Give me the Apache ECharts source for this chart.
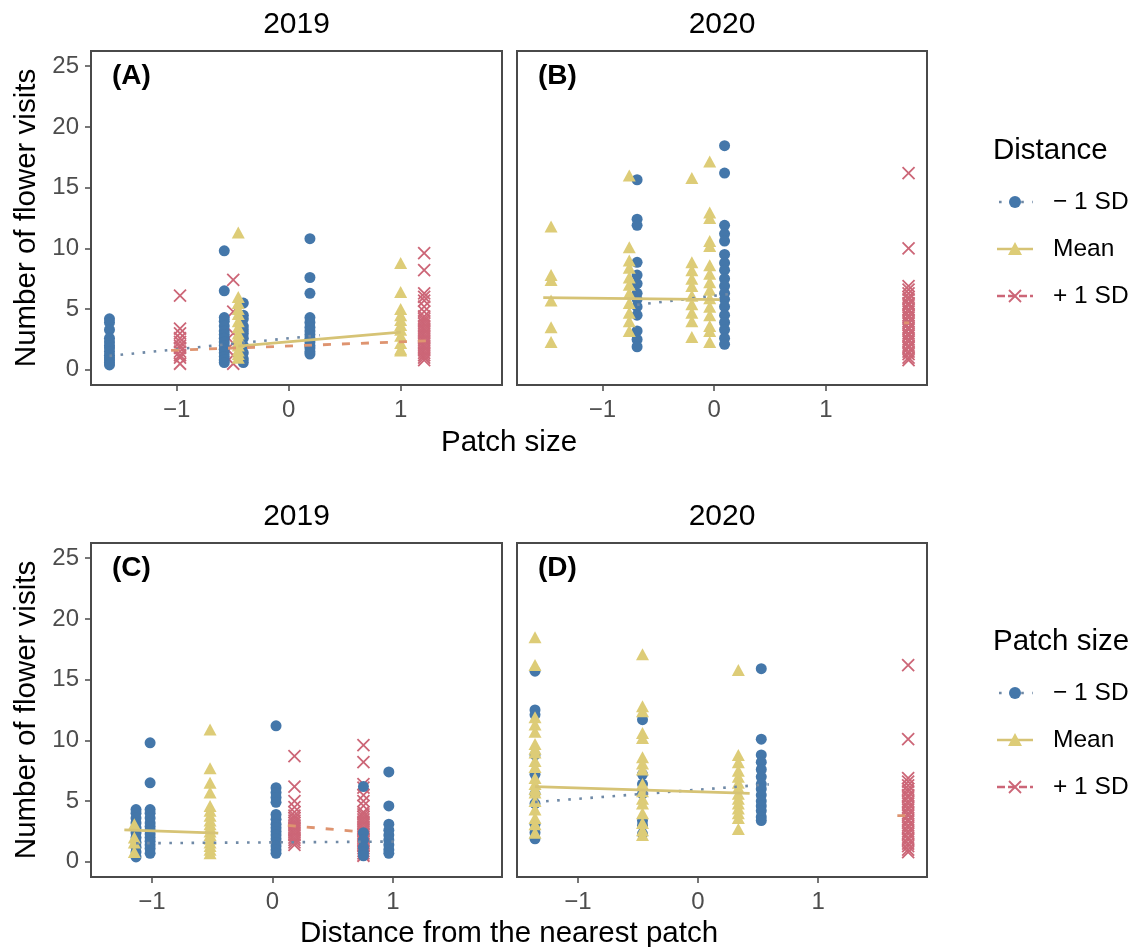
<!DOCTYPE html>
<html><head><meta charset="utf-8">
<script src="https://cdn.jsdelivr.net/npm/echarts@6/dist/echarts.min.js"></script>
<style>html,body{margin:0;padding:0;background:#fff}#c{width:1146px;height:947px}</style>
</head><body><div id="c"></div>
<script>
// ---------- DATA ----------
const stripLabels = ['2019', '2020', '2019', '2020'];
const panelLabels = ['(A)', '(B)', '(C)', '(D)'];
const xTicks = [-1, 0, 1];
const yTicks = [0, 5, 10, 15, 20, 25];
const legendLabels = ['\u2212 1 SD', 'Mean', '+ 1 SD'];

// Panel A (2019, patch size)
const aBlueX = [-1.60, -0.575, -0.405, 0.19];
const aBlueY = [
  [4.2, 3.9, 3.3, 2.6, 2.3, 2.0, 1.8, 1.5, 1.2, 1.0, 0.8, 0.6, 0.4],
  [9.8, 6.5, 4.3, 4.0, 3.6, 3.2, 2.9, 2.6, 2.3, 2.0, 1.7, 1.4, 1.1, 0.8, 0.6],
  [5.5, 4.5, 4.2, 3.6, 3.3, 3.0, 2.6, 2.0, 1.4, 0.9, 0.6],
  [10.8, 7.6, 6.3, 4.3, 3.9, 3.5, 3.2, 2.9, 2.6, 2.3, 2.0, 1.8, 1.5, 1.3]
];
const aMeanX = [-0.45, 1.0];
const aMeanY = [
  [11.3, 6.0, 5.5, 5.0, 4.6, 4.0, 3.5, 3.0, 2.7, 2.3, 2.0, 1.6, 1.3, 1.0],
  [8.8, 6.4, 5.0, 4.5, 4.1, 3.7, 3.3, 2.8, 2.2, 1.7, 1.6]
];
const aPlusX = [-0.97, -0.495, 1.21];
const aPlusY = [
  [6.1, 3.4, 3.0, 2.6, 2.3, 2.0, 1.8, 1.5, 1.2, 1.0, 0.5],
  [7.4, 4.8, 3.0, 2.2, 1.2, 0.5],
  [9.6, 8.2, 6.3, 6.0, 5.7, 5.2, 4.8, 4.4, 4.2, 4.0, 3.8, 3.6, 3.4, 3.2, 3.0, 2.8, 2.6, 2.4, 2.2, 2.0, 1.8, 1.6, 1.4, 1.2, 1.0, 0.8]
];
const aFitMinus = [[-1.60, 1.15], [0.28, 2.85]];
const aFitMean = [[-0.45, 1.95], [1.0, 3.1]];
const aFitPlus = [[-1.05, 1.6], [1.28, 2.4]];

// Panel B (2020, patch size)
const bBlueX = [-0.69, 0.093];
const bBlueY = [
  [15.65, 12.4, 11.9, 8.85, 7.8, 7.1, 6.3, 5.8, 5.2, 4.5, 3.2, 2.5, 1.9],
  [18.45, 16.2, 11.9, 11.2, 10.6, 9.5, 8.8, 8.2, 7.5, 6.9, 6.3, 5.8, 5.2, 4.5, 3.9, 3.3, 2.6, 2.1]
];
const bMeanX = [-1.46, -0.76, -0.2, -0.04];
const bMeanY = [
  [11.8, 7.8, 7.4, 5.7, 3.5, 2.3],
  [16.0, 10.1, 9.0, 8.4, 7.6, 7.0, 6.3, 5.5, 4.7, 4.0, 3.2],
  [15.8, 8.85, 8.2, 7.5, 6.9, 6.1, 5.4, 4.7, 4.0, 2.7],
  [17.15, 12.96, 12.5, 10.6, 10.2, 8.6, 7.9, 7.2, 6.6, 5.9, 5.2, 4.5, 3.6, 3.2, 2.3]
];
const bPlusX = [1.74];
const bPlusY = [
  [16.2, 10.0, 6.9, 6.6, 6.3, 6.0, 5.8, 5.5, 5.3, 5.0, 4.8, 4.5, 4.3, 4.0, 3.8, 3.5, 3.3, 3.0, 2.8, 2.5, 2.3, 2.0, 1.8, 1.5, 1.3, 1.0, 0.8]
];
const bFitMinus = [[-0.69, 5.35], [0.19, 6.3]];
const bFitMean = [[-1.53, 5.95], [0.05, 5.78]];
const bFitPlus = [[1.70, 3.86], [1.745, 3.86]];

// Panel C (2019, distance)
const cBlueX = [-1.133, -1.016, 0.03, 0.756, 0.967];
const cBlueY = [
  [4.3, 4.0, 3.6, 3.2, 2.8, 2.4, 2.0, 1.6, 1.2, 0.8, 0.4],
  [9.8, 6.5, 4.3, 4.0, 3.6, 3.2, 2.9, 2.6, 2.3, 2.0, 1.7, 1.4, 1.1, 0.7],
  [11.2, 6.1, 5.7, 5.3, 4.9, 3.9, 3.5, 3.1, 2.8, 2.5, 2.2, 1.9, 1.6, 1.3, 1.0, 0.7],
  [6.2, 2.4, 1.8, 1.2, 0.8, 0.5],
  [7.4, 4.6, 3.1, 2.6, 2.2, 1.8, 1.4, 1.0, 0.7]
];
const cMeanX = [-1.147, -0.518];
const cMeanY = [
  [3.1, 2.0, 1.6, 0.8],
  [10.9, 7.7, 6.5, 5.7, 4.6, 4.2, 3.8, 3.4, 3.1, 2.8, 2.5, 2.2, 1.9, 1.6, 1.3, 1.0, 0.7]
];
const cPlusX = [0.183, 0.756];
const cPlusY = [
  [8.7, 6.2, 5.0, 4.5, 4.1, 3.8, 3.6, 3.4, 3.2, 3.0, 2.8, 2.6, 2.4, 2.2, 2.0, 1.8, 1.6, 1.4],
  [9.6, 8.2, 6.4, 6.1, 5.5, 5.0, 4.6, 4.1, 3.9, 3.7, 3.5, 3.3, 3.1, 2.9, 2.7, 2.5, 2.3, 2.1, 1.9, 1.7, 1.5, 1.3, 1.1, 0.9, 0.7, 0.5]
];
const cFitMinus = [[-1.133, 1.53], [1.06, 1.67]];
const cFitMean = [[-1.23, 2.63], [-0.45, 2.36]];
const cFitPlus = [[0.128, 3.0], [0.743, 2.46]];

// Panel D (2020, distance)
const dBlueX = [-1.357, -0.462, 0.527];
const dBlueY = [
  [15.7, 12.5, 12.1, 8.8, 7.2, 5.6, 4.8, 3.1, 2.4, 1.9],
  [11.7, 7.2, 6.4, 5.6, 3.4, 3.0, 2.3],
  [15.9, 10.1, 8.8, 8.2, 7.6, 7.0, 6.4, 6.0, 5.5, 5.0, 4.6, 4.2, 3.7, 3.4]
];
const dMeanX = [-1.357, -0.462, 0.336];
const dMeanY = [
  [18.5, 16.2, 11.9, 11.3, 10.7, 9.7, 9.3, 9.0, 8.3, 7.8, 6.9, 6.4, 6.0, 5.7, 5.0, 4.3, 3.6, 3.1, 2.4],
  [17.1, 12.8, 12.4, 10.6, 10.2, 8.6, 8.1, 7.6, 6.4, 5.8, 5.2, 4.8, 4.0, 3.2, 2.6, 2.2],
  [15.8, 8.8, 8.2, 7.5, 7.0, 6.5, 6.1, 5.6, 5.2, 4.8, 4.4, 4.0, 3.6, 2.7]
];
const dPlusX = [1.75];
const dPlusY = [
  [16.2, 10.1, 6.9, 6.6, 6.3, 6.0, 5.8, 5.5, 5.3, 5.0, 4.8, 4.5, 4.3, 4.0, 3.8, 3.5, 3.3, 3.0, 2.8, 2.5, 2.3, 2.0, 1.8, 1.5, 1.3, 1.0, 0.8]
];
const dFitMinus = [[-1.357, 4.92], [0.59, 6.38]];
const dFitMean = [[-1.357, 6.19], [0.43, 5.64]];
const dFitPlus = [[1.66, 3.8], [1.73, 3.8]];

// ---------- STYLE / LAYOUT ----------
const FONT = '"Liberation Sans", Arial, Helvetica, sans-serif';
const BLUE = '#4477AA', YELLOW = '#DDCC77', RED = '#CC6677';
const LBLUE = '#6F89A6', LYELLOW = '#D6C375', LRED = '#DE9470';
const XSYM = 'path://M0,0L10,10M10,0L0,10';

const grids = [
  { left: 91, top: 51, width: 411, height: 334 },
  { left: 517, top: 51, width: 410, height: 334 },
  { left: 91, top: 543, width: 411, height: 334 },
  { left: 517, top: 543, width: 410, height: 334 }
];
const xRanges = [[-1.765, 1.905], [-1.765, 1.905], [-1.507, 1.907], [-1.507, 1.907]];
const yRange = [-1.25, 26.25];
const showY = [true, false, true, false];

function cols(xs, ys) {
  const out = [];
  xs.forEach((x, i) => ys[i].forEach(v => out.push([x, v])));
  return out;
}
const panels = [
  { blue: cols(aBlueX, aBlueY), mean: cols(aMeanX, aMeanY), plus: cols(aPlusX, aPlusY), fm: aFitMinus, fa: aFitMean, fp: aFitPlus },
  { blue: cols(bBlueX, bBlueY), mean: cols(bMeanX, bMeanY), plus: cols(bPlusX, bPlusY), fm: bFitMinus, fa: bFitMean, fp: bFitPlus },
  { blue: cols(cBlueX, cBlueY), mean: cols(cMeanX, cMeanY), plus: cols(cPlusX, cPlusY), fm: cFitMinus, fa: cFitMean, fp: cFitPlus },
  { blue: cols(dBlueX, dBlueY), mean: cols(dMeanX, dMeanY), plus: cols(dPlusX, dPlusY), fm: dFitMinus, fa: dFitMean, fp: dFitPlus }
];

const fmt = v => (v < 0 ? '\u2212' + Math.abs(v) : String(v));

const grid = grids.map(g => Object.assign({ show: true, borderColor: '#4a4a4a', borderWidth: 2, backgroundColor: 'transparent' }, g));
const xAxis = grids.map((g, i) => ({
  type: 'value', gridIndex: i, min: xRanges[i][0], max: xRanges[i][1], position: 'bottom',
  splitLine: { show: false }, axisLine: { show: false, onZero: false },
  axisTick: { show: true, length: 6, lineStyle: { color: '#4a4a4a', width: 1.5 }, customValues: xTicks },
  axisLabel: { show: true, customValues: xTicks, formatter: fmt, color: '#4d4d4d', fontSize: 24, fontFamily: FONT, margin: 13 }
}));
const yAxis = grids.map((g, i) => ({
  type: 'value', gridIndex: i, min: yRange[0], max: yRange[1], position: 'left',
  splitLine: { show: false }, axisLine: { show: false, onZero: false },
  axisTick: { show: showY[i], length: 6, lineStyle: { color: '#4a4a4a', width: 1.5 }, customValues: yTicks },
  axisLabel: { show: showY[i], customValues: yTicks, formatter: fmt, color: '#4d4d4d', fontSize: 24, fontFamily: FONT, margin: 12 }
}));

const series = [];
panels.forEach((p, i) => {
  series.push({ type: 'scatter', xAxisIndex: i, yAxisIndex: i, data: p.plus, symbol: XSYM, symbolSize: 12,
    itemStyle: { color: 'rgba(0,0,0,0)', borderColor: RED, borderWidth: 1.8, opacity: 1 }, silent: true, z: 2 });
  series.push({ type: 'scatter', xAxisIndex: i, yAxisIndex: i, data: p.blue, symbol: 'circle', symbolSize: 11,
    itemStyle: { color: BLUE, opacity: 1 }, silent: true, z: 2 });
  series.push({ type: 'scatter', xAxisIndex: i, yAxisIndex: i, data: p.mean, symbol: 'triangle', symbolSize: [13, 12],
    itemStyle: { color: YELLOW, opacity: 1 }, silent: true, z: 2 });
  series.push({ type: 'line', xAxisIndex: i, yAxisIndex: i, data: p.fm, showSymbol: false, symbol: 'none',
    lineStyle: { color: LBLUE, width: 2.6, type: [2.6, 8.5] }, silent: true, z: 3 });
  series.push({ type: 'line', xAxisIndex: i, yAxisIndex: i, data: p.fa, showSymbol: false, symbol: 'none',
    lineStyle: { color: LYELLOW, width: 2.8, type: 'solid' }, silent: true, z: 3 });
  series.push({ type: 'line', xAxisIndex: i, yAxisIndex: i, data: p.fp, showSymbol: false, symbol: 'none',
    lineStyle: { color: LRED, width: 2.8, type: [8, 11] }, silent: true, z: 3 });
});

// ---------- TEXT + LEGEND GRAPHICS ----------
const graphic = [];
const txt = (x, y, s, size, opts) => graphic.push(Object.assign({
  type: 'text', x: x, y: y, silent: true,
  style: Object.assign({ text: s, font: (opts && opts.weight ? opts.weight + ' ' : '') + size + 'px ' + FONT,
    fill: '#000', align: 'center', verticalAlign: 'middle' }, opts && opts.style)
}, opts && opts.el));

grids.forEach((g, i) => {
  txt(g.left + g.width / 2, g.top - 26, stripLabels[i], 30);
  txt(g.left + 21, g.top + 25, panelLabels[i], 28, { weight: 'bold', style: { align: 'left' } });
});
txt(509, 443, 'Patch size', 29.5);
txt(509, 934, 'Distance from the nearest patch', 29.5);
txt(27, 218, 'Number of flower visits', 29.5, { el: { rotation: Math.PI / 2 } });
txt(27, 710, 'Number of flower visits', 29.5, { el: { rotation: Math.PI / 2 } });

function legend(title, y0) {
  txt(993, y0, title, 29.5, { style: { align: 'left' } });
  const ys = [y0 + 51, y0 + 98, y0 + 145];
  const x1 = 997, x2 = 1033, cx = 1015;
  graphic.push({ type: 'line', silent: true, shape: { x1: x1, y1: ys[0], x2: x2, y2: ys[0] },
    style: { stroke: LBLUE, lineWidth: 2.6, lineDash: [2.6, 8.5], lineDashOffset: -2 } });
  graphic.push({ type: 'circle', silent: true, shape: { cx: cx, cy: ys[0], r: 6 }, style: { fill: BLUE } });
  graphic.push({ type: 'line', silent: true, shape: { x1: x1, y1: ys[1], x2: x2, y2: ys[1] },
    style: { stroke: LYELLOW, lineWidth: 2.6 } });
  graphic.push({ type: 'polygon', silent: true, shape: { points: [[cx - 7, ys[1] + 6], [cx + 7, ys[1] + 6], [cx, ys[1] - 7]] }, style: { fill: YELLOW } });
  graphic.push({ type: 'line', silent: true, shape: { x1: x1, y1: ys[2], x2: x2, y2: ys[2] },
    style: { stroke: RED, lineWidth: 2.6, lineDash: [8, 3] } });
  graphic.push({ type: 'polyline', silent: true, shape: { points: [[cx - 6, ys[2] - 6], [cx + 6, ys[2] + 6]] }, style: { stroke: RED, lineWidth: 1.8, fill: null } });
  graphic.push({ type: 'polyline', silent: true, shape: { points: [[cx + 6, ys[2] - 6], [cx - 6, ys[2] + 6]] }, style: { stroke: RED, lineWidth: 1.8, fill: null } });
  legendLabels.forEach((l, k) => txt(1053, ys[k], l, 24.5, { style: { align: 'left' } }));
}
legend('Distance', 151);
legend('Patch size', 642);

const chart = echarts.init(document.getElementById('c'), null, { renderer: 'canvas' });
chart.setOption({
  animation: false,
  backgroundColor: '#ffffff',
  grid: grid, xAxis: xAxis, yAxis: yAxis, series: series, graphic: graphic
});
</script></body></html>
